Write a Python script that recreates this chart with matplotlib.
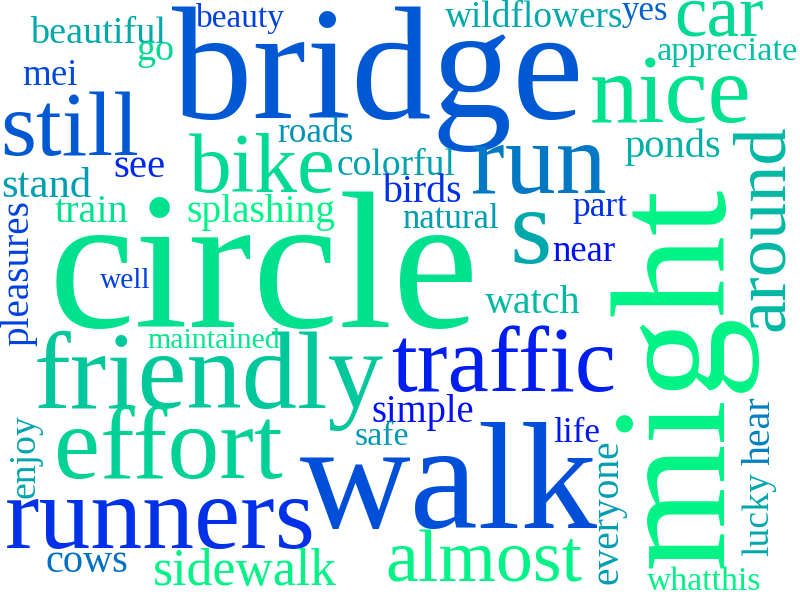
import matplotlib
matplotlib.use("Agg")
import matplotlib.pyplot as plt
from matplotlib.textpath import TextPath
from matplotlib.font_manager import FontProperties

# ---- data ----
words = ["bridge", "circle", "walk", "friendly", "runners", "traffic", "effort",
         "still", "bike", "nice", "run", "almost", "car", "sidewalk", "s",
         "beautiful", "wildflowers", "appreciate", "ponds", "colorful",
         "splashing", "stand", "train", "birds", "natural", "near", "part",
         "roads", "see", "mei", "beauty", "go", "yes", "well", "maintained",
         "cows", "simple", "safe", "watch", "life", "whatthis",
         "might", "around", "pleasures", "enjoy", "everyone", "lucky", "hear"]
# position on the colour scale (winter colormap)
color_levels = [0.35, 0.88, 0.31, 0.78, 0.19, 0.12, 0.82,
                0.35, 0.85, 0.88, 0.47, 0.95, 0.85, 0.95, 0.66,
                0.66, 0.66, 0.75, 0.69, 0.63,
                0.95, 0.62, 0.88, 0.19, 0.62, 0.06, 0.19,
                0.57, 0.16, 0.28, 0.25, 0.85, 0.38, 0.25, 0.90,
                0.44, 0.06, 0.60, 0.72, 0.09, 0.94,
                0.95, 0.72, 0.25, 0.64, 0.62, 0.65, 0.50]
rotated = ["might", "around", "pleasures", "enjoy", "everyone", "lucky", "hear"]

# ---- layout (pixel boxes): horizontal -> (x_left, x_right, baseline_y)
#                            rotated    -> (y_bottom, y_top, baseline_x)
layout = {
    "bridge": (172, 578, 118), "circle": (56, 472, 327), "walk": (300, 598, 528),
    "friendly": (37, 383, 408), "runners": (7, 312, 548), "traffic": (392, 613, 391),
    "effort": (58, 282, 478), "still": (4, 137, 155), "bike": (189, 333, 192),
    "nice": (592, 748, 122), "run": (473, 605, 193), "almost": (388, 582, 582),
    "car": (677, 763, 35), "sidewalk": (155, 337, 585), "s": (514, 548, 263),
    "beautiful": (30, 165, 43), "wildflowers": (445, 622, 27),
    "appreciate": (658, 797, 60), "ponds": (625, 720, 157),
    "colorful": (338, 455, 175), "splashing": (188, 335, 222),
    "stand": (3, 91, 197), "train": (55, 128, 222), "birds": (382, 460, 202),
    "natural": (403, 498, 228), "near": (553, 615, 261), "part": (573, 627, 216),
    "roads": (278, 352, 142), "see": (115, 164, 177), "mei": (23, 77, 85),
    "beauty": (196, 285, 27), "go": (138, 173, 60), "yes": (622, 667, 20),
    "well": (100, 150, 288), "maintained": (148, 280, 348), "cows": (47, 127, 572),
    "simple": (373, 473, 422), "safe": (356, 408, 445), "watch": (485, 580, 313),
    "life": (554, 599, 442), "whatthis": (647, 760, 590),
    "might": (565, 187, 722), "around": (328, 125, 783),
    "pleasures": (345, 201, 28), "enjoy": (497, 415, 35),
    "everyone": (582, 440, 617), "lucky": (555, 472, 768), "hear": (465, 397, 770),
}

DPI = 100
FAMILY = "Liberation Serif"
fp = FontProperties(family=FAMILY)

fig = plt.figure(figsize=(8, 6), dpi=DPI)
ax = fig.add_axes([0, 0, 1, 1])
ax.set_xlim(0, 800)
ax.set_ylim(600, 0)
ax.axis("off")
fig.patch.set_facecolor("white")

cmap = plt.get_cmap("winter")
px_per_pt = DPI / 72.0

for word, lvl in zip(words, color_levels):
    a, b, base = layout[word]
    ext = TextPath((0, 0), word, size=100, prop=fp).get_extents()
    ink_w = ext.x1 - ext.x0
    length = abs(b - a)
    size = length / px_per_pt * 100.0 / ink_w
    off = ext.x0 * size / 100.0 * px_per_pt
    color = cmap(lvl)
    if word in rotated:
        ax.text(base, a + off, word, fontsize=size, family=FAMILY, color=color,
                rotation=90, rotation_mode="anchor", ha="left", va="baseline")
    else:
        ax.text(a - off, base, word, fontsize=size, family=FAMILY, color=color,
                ha="left", va="baseline")

fig.savefig("out.png", dpi=DPI, facecolor="white")
